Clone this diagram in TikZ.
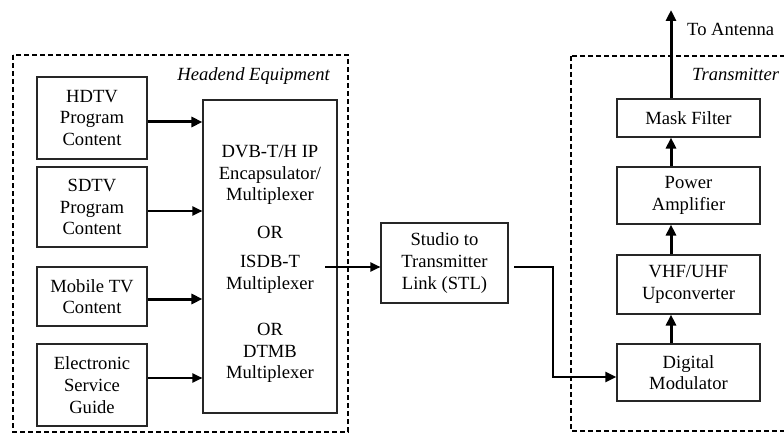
\documentclass[tikz,border=0pt]{standalone}
\usepackage{fontspec}
\setmainfont{Liberation Serif}
\usetikzlibrary{arrows.meta}
\begin{document}
\begin{tikzpicture}[x=1pt,y=-1pt,
  font=\fontsize{18.6}{21.7}\selectfont,
  block/.style={draw=black!85,line width=1.1pt,rectangle,inner sep=0pt,align=center},
  group/.style={draw=black,line width=1.8pt,dash pattern=on 5pt off 3pt},
  bigflow/.style={line width=3pt,-{Triangle[length=11pt,width=10pt]}},
  flow/.style={line width=2pt,-{Triangle[length=10pt,width=9pt]}},
  label/.style={inner sep=0pt,font=\fontsize{18.6}{21.7}\selectfont\itshape}]
\clip (0,0) rectangle (784,433);

% equipment groups
\draw[group] (13,55) rectangle (348,432);
\draw[group] (571,56) rectangle (795,431);
\node[label,anchor=base east] (headlbl) at (330,81) {Headend Equipment};
\node[label,anchor=base west] (txlbl) at (692,81) {Transmitter};

% program sources
\node[block,minimum width=110pt,minimum height=82pt] (hdtv) at (92,118) {HDTV\\Program\\Content};
\node[block,minimum width=110pt,minimum height=80pt] (sdtv) at (92,207) {SDTV\\Program\\Content};
\node[block,minimum width=110pt,minimum height=59pt] (mobile) at (92,296.5) {Mobile TV\\Content};
\node[block,minimum width=110pt,minimum height=82pt] (esg) at (92,385) {Electronic\\Service\\Guide};

% multiplexer
\node[block,minimum width=134pt,minimum height=313pt] (mux) at (270,256.5) {};
\node[align=center,inner sep=0pt] (dvb) at (270,175) {DVB-T/H IP\\Encapsulator/\\Multiplexer};
\node[inner sep=0pt] (or1) at (270,232) {OR};
\node[align=center,inner sep=0pt] (isdb) at (270,274.5) {ISDB-T\\Multiplexer};
\node[align=center,inner sep=0pt] (dtmb) at (270,353) {OR\\DTMB\\Multiplexer};
\coordinate (muxout) at (325,267);

% studio to transmitter link
\node[block,minimum width=127pt,minimum height=80pt] (stl) at (444.5,263) {Studio to\\Transmitter\\Link (STL)};
\coordinate (stlout) at (514,267);
\coordinate (bend) at (553,267);

% transmitter chain
\node[block,minimum width=143pt,minimum height=38pt] (mask) at (688.5,118) {Mask Filter};
\node[block,minimum width=143pt,minimum height=57pt] (pa) at (688.5,195.5) {Power\\Amplifier};
\node[block,minimum width=143pt,minimum height=59pt] (upc) at (688.5,284.5) {VHF/UHF\\Upconverter};
\node[block,minimum width=143pt,minimum height=57pt] (mod) at (688.5,372.5) {Digital\\Modulator};
\coordinate (ant) at (671,10);
\node[anchor=west,inner sep=0pt] (antlbl) at (687,29) {To Antenna};

% source feeds
\draw[bigflow] ([yshift=-4pt]hdtv.east) -- ([yshift=-4pt]hdtv.east -| mux.west);
\draw[flow] ([yshift=-4pt]sdtv.east) -- ([yshift=-4pt]sdtv.east -| mux.west);
\draw[bigflow] ([yshift=-2.5pt]mobile.east) -- ([yshift=-2.5pt]mobile.east -| mux.west);
\draw[flow] ([yshift=7pt]esg.east) -- ([yshift=7pt]esg.east -| mux.west);

% multiplexer to STL to modulator
\draw[flow] (muxout) -- (muxout -| stl.west);
\draw[line width=2.5pt,-{Triangle[length=11pt,width=10pt]}] (stlout) -- (bend) |- ([yshift=-4.5pt]mod.west);

% up the transmitter chain
\draw[bigflow] ([xshift=-17.5pt]mod.north) -- ([xshift=-17.5pt]upc.south);
\draw[bigflow] ([xshift=-17.5pt]upc.north) -- ([xshift=-17.5pt]pa.south);
\draw[bigflow] ([xshift=-17.5pt]pa.north) -- ([xshift=-17.5pt]mask.south);
\draw[bigflow] ([xshift=-17.5pt]mask.north) -- (ant);
\end{tikzpicture}
\end{document}
